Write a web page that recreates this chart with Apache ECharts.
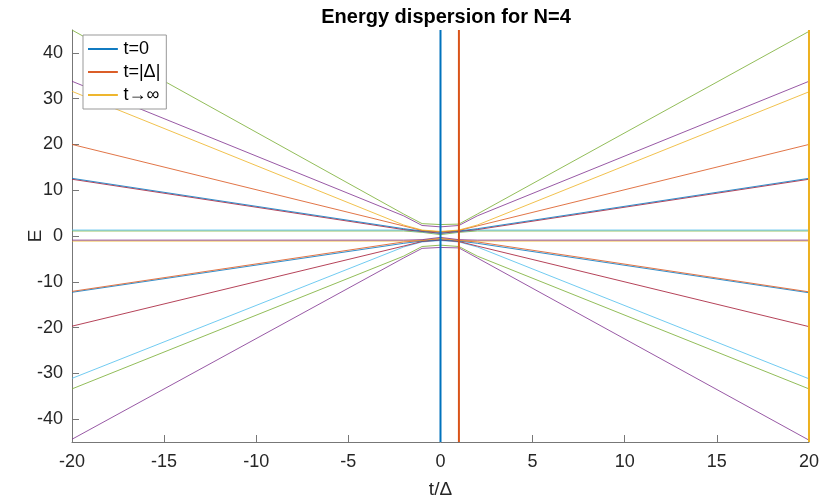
<!DOCTYPE html>
<html>
<head>
<meta charset="utf-8">
<script src="https://cdn.jsdelivr.net/npm/echarts@6/dist/echarts.min.js"></script>
<style>
html, body { margin: 0; padding: 0; background: #fff; }
#chart { width: 822px; height: 504px; }
</style>
</head>
<body>
<div id="chart"></div>
<script>
// sampled t/Delta values, eigenvalues sorted from lowest (e1) to highest (e16)
const tValues = [-20, -2, -1, 0, 1, 2, 20];
const e1  = [-44.4, -4.8, -2.7, -2.5, -2.6, -4.8, -44.6];
const e2  = [-33.4, -4.4, -2.3, -2.0, -2.3, -4.4, -33.4];
const e3  = [-31.1, -2.4, -1.3, -1.0, -1.3, -2.4, -31.2];
const e4  = [-19.7, -2.2, -1.2, -0.9, -1.2, -2.2, -19.8];
const e5  = [-12.3, -1.6, -1.1, -0.8, -1.1, -1.6, -12.4];
const e6  = [-12.1, -1.3, -1.0, -0.6, -1.0, -1.3, -12.2];
const e7  = [-1.1, -1.1, -0.9, -0.5, -0.9, -1.1, -1.1];
const e8  = [-0.9, -0.9, -0.8, -0.3, -0.8, -0.9, -0.9];
const e9  = [1.1, 1.1, 0.8, 0.3, 0.8, 1.1, 1.1];
const e10 = [1.3, 1.3, 0.9, 0.5, 0.9, 1.3, 1.3];
const e11 = [12.4, 1.4, 1.0, 0.6, 1.0, 1.4, 12.4];
const e12 = [12.6, 1.6, 1.1, 0.8, 1.1, 1.6, 12.6];
const e13 = [20.0, 2.2, 1.2, 0.9, 1.2, 2.2, 20.0];
const e14 = [31.6, 2.4, 1.3, 1.0, 1.3, 2.4, 31.5];
const e15 = [33.8, 4.4, 2.3, 2.0, 2.3, 4.4, 33.8];
const e16 = [45.0, 4.8, 2.7, 2.5, 2.6, 4.8, 44.7];
const levels = [e1, e2, e3, e4, e5, e6, e7, e8, e9, e10, e11, e12, e13, e14, e15, e16];

const markerNames = ['t=0', 't=|Δ|', 't→∞'];
const markerT = [0, 1, 20];
const yTicks = [-40, -30, -20, -10, 0, 10, 20, 30, 40];

// matlab default colour order
const palette = ['#0072BD', '#D95319', '#EDB120', '#7E2F8E', '#77AC30', '#4DBEEE', '#A2142F'];
const font = 'Liberation Sans, Arial, Helvetica, sans-serif';
// thin line with an invisible bounding box so the legend doesn't stretch it
const lineIcon = 'path://M0,0 M0,6.5 L32,6.5 L32,8.5 L0,8.5 Z M32,15';

const series = [];
levels.forEach(function (vals, i) {
    series.push({
        type: 'line',
        symbol: 'none',
        animation: false,
        silent: true,
        data: tValues.map(function (t, j) { return [t, vals[j]]; }),
        lineStyle: { width: 1, color: palette[(i + 3) % 7], opacity: 0.8 }
    });
});
markerT.forEach(function (t, i) {
    series.push({
        type: 'line',
        name: markerNames[i],
        symbol: 'none',
        animation: false,
        clip: false,
        silent: true,
        data: [[t, -45], [t, 45]],
        lineStyle: { width: 2, color: palette[i] },
        itemStyle: { color: palette[i] }
    });
});

const chart = echarts.init(document.getElementById('chart'), null, { renderer: 'canvas' });
chart.setOption({
    backgroundColor: '#fff',
    animation: false,
    title: {
        text: 'Energy dispersion for N=4',
        left: 441,
        textAlign: 'center',
        top: 2,
        textStyle: { fontFamily: font, fontSize: 20, fontWeight: 'bold', color: '#000' }
    },
    legend: {
        data: markerNames,
        icon: lineIcon,
        orient: 'vertical',
        left: 83,
        top: 35,
        itemWidth: 31,
        itemHeight: 14,
        itemGap: 5,
        padding: [5, 6, 5, 5],
        backgroundColor: '#fff',
        borderColor: '#999',
        borderWidth: 1,
        borderRadius: 0,
        textStyle: { fontFamily: font, fontSize: 18, color: '#000' }
    },
    grid: { left: 72, right: 12, top: 30, bottom: 60 },
    xAxis: {
        type: 'value',
        min: -20,
        max: 20,
        interval: 5,
        name: 't/Δ',
        nameLocation: 'middle',
        nameGap: 38,
        nameMoveOverlap: false,
        nameTextStyle: { fontFamily: font, fontSize: 19, color: '#262626' },
        axisLine: { onZero: false, lineStyle: { color: '#777', width: 1 } },
        axisTick: { inside: true, length: 7, lineStyle: { color: '#777' } },
        axisLabel: { fontFamily: font, fontSize: 18, color: '#262626', margin: 11 },
        splitLine: { show: false }
    },
    yAxis: {
        type: 'value',
        min: -45,
        max: 45,
        name: 'E',
        nameLocation: 'middle',
        nameGap: 27,
        nameMoveOverlap: false,
        nameTextStyle: { fontFamily: font, fontSize: 19, color: '#262626' },
        axisLine: { show: true, onZero: false, lineStyle: { color: '#777', width: 1 } },
        axisTick: { show: true, inside: true, length: 7, customValues: yTicks, lineStyle: { color: '#777' } },
        axisLabel: { fontFamily: font, fontSize: 18, color: '#262626', margin: 9, customValues: yTicks },
        splitLine: { show: false }
    },
    series: series
});
</script>
</body>
</html>
